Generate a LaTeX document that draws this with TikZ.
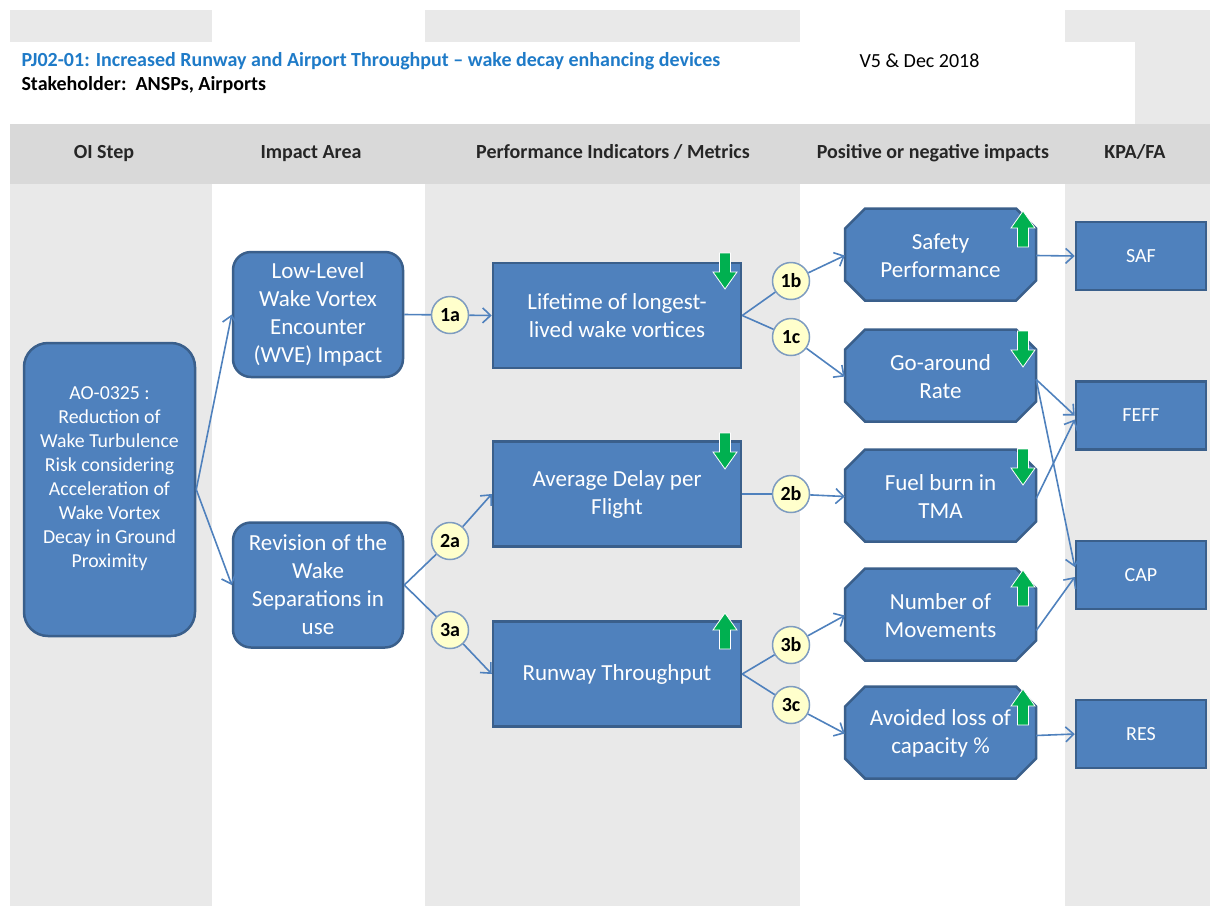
\documentclass[tikz,border=0pt]{standalone}
\usepackage{fontspec}
\setmainfont{Carlito}
\usetikzlibrary{arrows.meta}

\definecolor{boxblue}{HTML}{4F81BD}
\definecolor{boxedge}{HTML}{3A5F8B}
\definecolor{colgrey}{HTML}{E9E9E9}
\definecolor{headgrey}{HTML}{D9D9D9}
\definecolor{titleblue}{HTML}{1F7BC8}
\definecolor{tagyellow}{HTML}{FFFFCC}
\definecolor{tagedge}{HTML}{7E9CC0}
\definecolor{trendgreen}{HTML}{00B050}

\newcommand\boxfont{\fontsize{23}{28}\selectfont}
\newcommand\oifont{\fontsize{19.8}{24}\selectfont}
\newcommand\smallfont{\fontsize{20}{24}\selectfont}

% green trend arrows, (#1,#2) = middle of the top end
\newcommand\trenddown[2]{\filldraw[trend,shift={(#1,#2)}] (-5.5,0) -- (5.5,0) -- (5.5,19) -- (12,19) -- (0,36) -- (-12,19) -- (-5.5,19) -- cycle;}
\newcommand\trendup[2]{\filldraw[trend,shift={(#1,#2)}] (0,0) -- (12,17) -- (5.5,17) -- (5.5,36) -- (-5.5,36) -- (-5.5,17) -- (-12,17) -- cycle;}
% cut-corner box behind an impact node, (#1,#2) = centre
\newcommand\effshape[2]{\filldraw[effline,shift={(#1,#2)}] (-75.5,-46) -- (75.5,-46) -- (95.5,-26) -- (95.5,26) -- (75.5,46) -- (-75.5,46) -- (-95.5,26) -- (-95.5,-26) -- cycle;}

\begin{document}
\begin{tikzpicture}[x=1pt,y=-1pt,
    oibox/.style={draw=boxedge,line width=2.5pt,fill=boxblue,text=white,align=center,rounded corners=24pt,font=\oifont},
    areabox/.style={draw=boxedge,line width=2.5pt,fill=boxblue,text=white,align=center,rounded corners=18pt,minimum width=170,minimum height=125,font=\boxfont},
    pibox/.style={draw=boxedge,line width=2.5pt,fill=boxblue,text=white,align=center,minimum width=248,minimum height=105,font=\boxfont},
    effline/.style={draw=boxedge,line width=2.5pt,fill=boxblue},
    effbox/.style={text=white,align=center,minimum width=191,minimum height=92,inner sep=0pt,font=\boxfont},
    kpabox/.style={draw=boxedge,line width=2.5pt,fill=boxblue,text=white,minimum width=130,minimum height=68,font=\smallfont},
    tag/.style={circle,draw=tagedge,line width=1.5pt,fill=tagyellow,minimum size=37,inner sep=0pt,font=\smallfont\bfseries},
    head/.style={font=\smallfont\bfseries,text=black!85,text height=14,text depth=4},
    link/.style={draw=boxblue,line width=1.6pt},
    arr/.style={link,-{Straight Barb[length=8pt,width=15pt]}},
    trend/.style={fill=trendgreen,draw=white,line width=0.8pt}]

\useasboundingbox (0,0) rectangle (1210,906);

% column stripes, title area and header row
\foreach \xa/\xb in {10/212,425/800,1065/1210}
  \fill[colgrey] (\xa,10) rectangle (\xb,906);
\fill[white] (10,42) rectangle (1135,124);
\fill[headgrey] (10,124) rectangle (1210,184);

\node[anchor=west,font=\smallfont\bfseries,text=titleblue] (title) at (18,61) {PJ02-01: Increased Runway and Airport Throughput -- wake decay enhancing devices};
\node[anchor=west,font=\smallfont\bfseries] (holder) at (18,85) {Stakeholder:\ \ ANSPs, Airports};
\node[anchor=west,font=\smallfont] (version) at (856,61) {V5 \& Dec 2018};

\node[head] (h1) at (104,153) {OI Step};
\node[head] (h2) at (311,153) {Impact Area};
\node[head] (h3) at (613,153) {Performance Indicators / Metrics};
\node[head] (h4) at (933,153) {Positive or negative impacts};
\node[head] (h5) at (1135,153) {KPA/FA};

% OI step and impact areas
\node[oibox,minimum width=171,minimum height=293] (oi) at (109.5,489.5) {AO-0325 :\\Reduction of\\Wake Turbulence\\Risk considering\\Acceleration of\\Wake Vortex\\Decay in Ground\\Proximity\\~};
\node[areabox] (ia1) at (318,314.5) {Low-Level\\Wake Vortex\\Encounter\\(WVE) Impact};
\node[areabox] (ia2) at (318,585) {Revision of the\\Wake\\Separations in\\use};

% performance indicators
\node[pibox] (pi1) at (617,315.5) {Lifetime of longest-\\lived wake vortices};
\node[pibox] (pi2) at (617,494) {Average Delay per\\Flight};
\node[pibox] (pi3) at (617,674) {Runway Throughput};

% impacts
\effshape{940.5}{254.5}
\effshape{940.5}{375.5}
\effshape{940.5}{495.5}
\effshape{940.5}{614.5}
\effshape{940.5}{732.5}
\node[effbox] (saf) at (940.5,255.5) {Safety\\Performance};
\node[effbox] (goa) at (940.5,376.5) {Go-around\\Rate};
\node[effbox] (fuel) at (940.5,496.5) {Fuel burn in\\TMA};
\node[effbox] (mov) at (940.5,615.5) {Number of\\Movements};
\node[effbox] (cty) at (940.5,733.5) {Avoided loss of\\capacity \%};

% KPA / FA
\node[kpabox] (kSAF) at (1141,256) {SAF};
\node[kpabox] (kFEFF) at (1141,415.5) {FEFF};
\node[kpabox] (kCAP) at (1141,575) {CAP};
\node[kpabox] (kRES) at (1141,734) {RES};

% numbered tags
\node[tag] (t1a) at (450,315) {1a};
\node[tag] (t1b) at (791,281) {1b};
\node[tag] (t1c) at (791,337) {1c};
\node[tag] (t2a) at (450,541) {2a};
\node[tag] (t2b) at (791,494) {2b};
\node[tag] (t3a) at (450,630) {3a};
\node[tag] (t3b) at (791,645) {3b};
\node[tag] (t3c) at (791,705) {3c};

% connectors
\draw[arr] (oi.east) -- (ia1.west);
\draw[arr] (oi.east) -- (ia2.west);
\draw[link] (ia1.east) -- (t1a);
\draw[arr] (t1a) -- (pi1.west);
\draw[link] (ia2.east) -- (t2a);
\draw[arr] (t2a) -- (pi2.west);
\draw[link] (ia2.east) -- (t3a);
\draw[arr] (t3a) -- (pi3.west);
\draw[link] (pi1.east) -- (t1b);
\draw[arr] (t1b) -- (saf.west);
\draw[link] (pi1.east) -- (t1c);
\draw[arr] (t1c) -- (goa.west);
\draw[link] (pi2.east) -- (t2b);
\draw[arr] (t2b) -- (fuel.west);
\draw[link] (pi3.east) -- (t3b);
\draw[arr] (t3b) -- (mov.west);
\draw[link] (pi3.east) -- (t3c);
\draw[arr] (t3c) -- (cty.west);
\draw[arr] (saf.east) -- (kSAF.west);
\draw[arr] ([yshift=-3]goa.east) -- (kFEFF.west);
\draw[arr] ([yshift=-3]goa.east) -- ([yshift=8]kCAP.west);
\draw[arr] ([yshift=-2]fuel.east) -- ([yshift=-4]kFEFF.west);
\draw[arr] ([yshift=-15]mov.east) -- ([yshift=-2]kCAP.west);
\draw[arr] ([yshift=-2]cty.east) -- (kRES.west);

% trend arrows
\trenddown{725}{253}
\trenddown{725}{433}
\trendup{725}{613}
\trendup{1023}{211}
\trenddown{1023}{331}
\trenddown{1023}{449}
\trendup{1023}{570}
\trendup{1023}{689}
\end{tikzpicture}
\end{document}
